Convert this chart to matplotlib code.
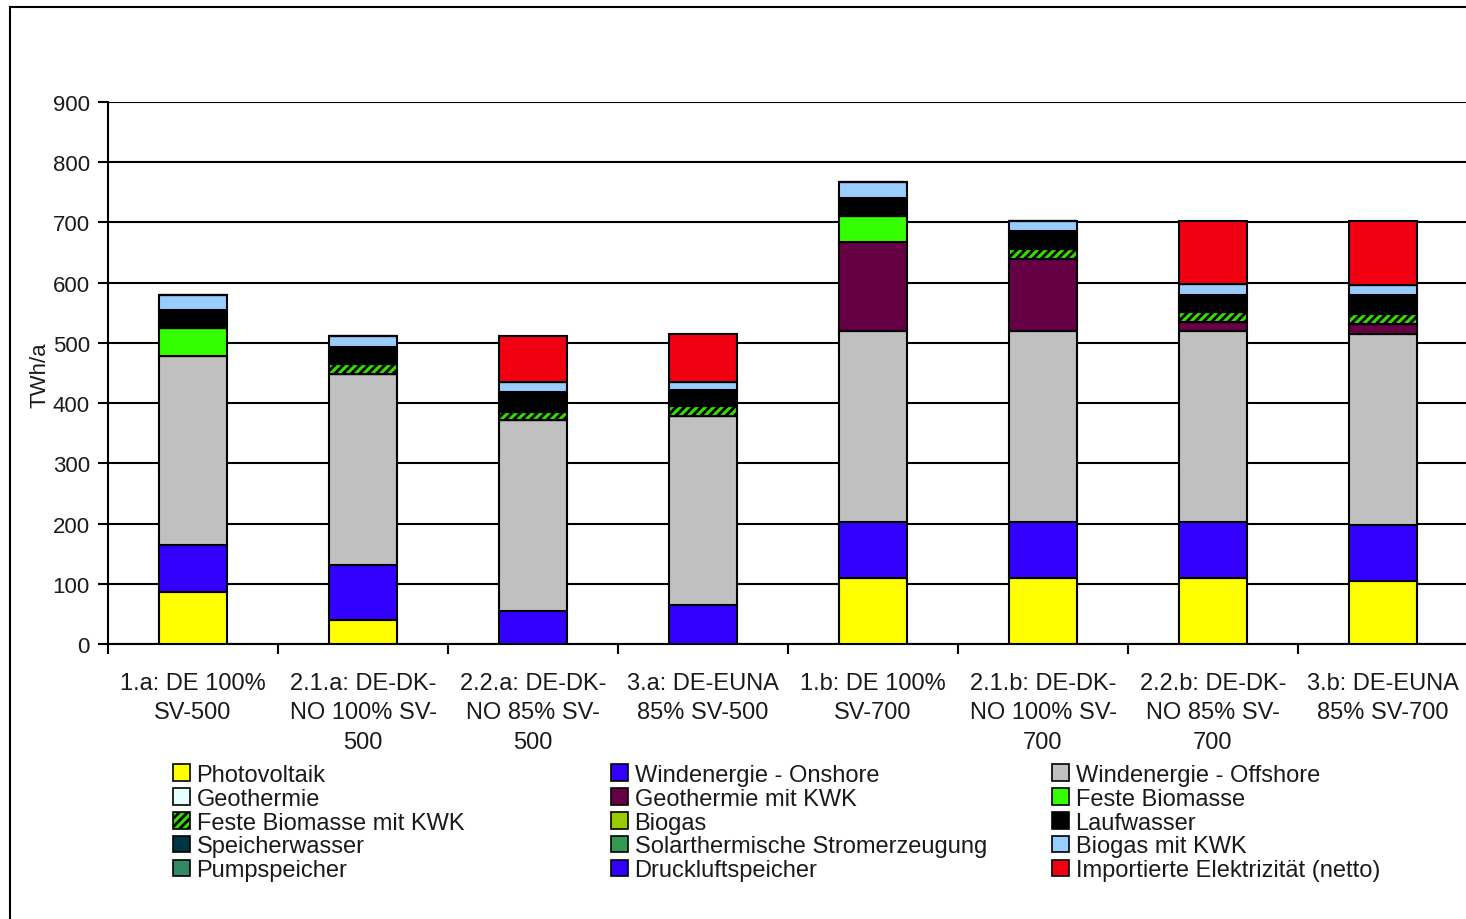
import matplotlib
matplotlib.use("Agg")
import matplotlib.pyplot as plt
from matplotlib.patches import Patch
from matplotlib.lines import Line2D
import numpy as np

plt.rcParams['font.family'] = ['Liberation Sans', 'DejaVu Sans']
plt.rcParams['hatch.linewidth'] = 2.0

categories = ["1.a: DE 100%\nSV-500", "2.1.a: DE-DK-\nNO 100% SV-\n500", "2.2.a: DE-DK-\nNO 85% SV-\n500",
              "3.a: DE-EUNA\n85% SV-500", "1.b: DE 100%\nSV-700", "2.1.b: DE-DK-\nNO 100% SV-\n700",
              "2.2.b: DE-DK-\nNO 85% SV-\n700", "3.b: DE-EUNA\n85% SV-700"]

series_names = ["Photovoltaik", "Windenergie - Onshore", "Windenergie - Offshore",
                "Geothermie", "Geothermie mit KWK", "Feste Biomasse",
                "Feste Biomasse mit KWK", "Biogas", "Laufwasser",
                "Speicherwasser", "Solarthermische Stromerzeugung", "Biogas mit KWK",
                "Pumpspeicher", "Druckluftspeicher", "Importierte Elektrizität (netto)"]

photovoltaik   = [87, 40, 0, 0, 110, 110, 110, 104]
wind_onshore   = [77, 92, 55, 65, 93, 93, 93, 93]
wind_offshore  = [315, 317, 317, 314, 316, 316, 316, 317]
geothermie     = [0, 0, 0, 0, 0, 0, 0, 0]
geothermie_kwk = [0, 0, 0, 0, 148, 121, 16, 18]
feste_biomasse = [46, 0, 0, 0, 43, 0, 0, 0]
feste_bio_kwk  = [0, 16, 14, 16, 0, 16, 16, 16]
biogas         = [0, 0, 0, 0, 0, 0, 0, 0]
laufwasser     = [29, 29, 32, 26, 31, 29, 28, 31]
speicherwasser = [0, 0, 0, 0, 0, 0, 0, 0]
solarthermie   = [0, 0, 0, 0, 0, 0, 0, 0]
biogas_kwk     = [25, 17, 17, 14, 26, 17, 18, 17]
pumpspeicher   = [0, 0, 0, 0, 0, 0, 0, 0]
druckluft      = [0, 0, 0, 0, 0, 0, 0, 0]
import_netto   = [0, 0, 76, 80, 0, 0, 105, 106]

values = [photovoltaik, wind_onshore, wind_offshore, geothermie, geothermie_kwk, feste_biomasse,
          feste_bio_kwk, biogas, laufwasser, speicherwasser, solarthermie, biogas_kwk,
          pumpspeicher, druckluft, import_netto]

colors = ["#FFFF00", "#3300FF", "#C0C0C0", "#E6FFFF", "#660044", "#33FF00",
          "#33DD00", "#99CC00", "#000000", "#003344", "#339955", "#99CCFF",
          "#338866", "#3300FF", "#F00010"]
hatches = [None]*15
hatches[6] = "////"

yticks = [0, 100, 200, 300, 400, 500, 600, 700, 800, 900]

W, H = 1466, 920
fig = plt.figure(figsize=(W/100, H/100), dpi=100)
ax = fig.add_axes([108/W, 1-645/H, (1468-108)/W, (645-103)/H])

x = np.arange(len(categories))
bottom = np.zeros(len(categories))
for vals, c, h in zip(values, colors, hatches):
    v = np.array(vals, dtype=float)
    ax.bar(x, v, width=0.4, bottom=bottom, color=c, edgecolor="black", linewidth=1.5,
           hatch=h, zorder=3)
    bottom += v

ax.set_xlim(-0.5, len(categories)-0.5)
ax.set_ylim(0, 900)
ax.set_yticks(yticks)
ax.set_yticklabels([str(t) for t in yticks], fontsize=16, color="#1a1a1a")
ax.yaxis.grid(True, color="black", linewidth=1.5, zorder=0)
ax.set_axisbelow(True)

ax.set_xticks(np.arange(-0.5, len(categories)), minor=False)
ax.set_xticklabels([])
ax.set_xticks(x, minor=True)
ax.set_xticklabels(categories, minor=True, fontsize=17, color="#1a1a1a", linespacing=1.45)
ax.tick_params(axis="x", which="major", length=7, width=1.5, direction="out")
ax.tick_params(axis="x", which="minor", length=0, pad=20)
ax.tick_params(axis="y", length=7, width=1.5, direction="out", pad=6)

ax.spines["right"].set_visible(False)
ax.spines["top"].set_visible(False)
ax.spines["left"].set_linewidth(1.5)
ax.spines["bottom"].set_linewidth(1.5)

fig.text(40/W, 1-375/H, "TWh/a", rotation=90, ha="center", va="center", fontsize=16, color="#1a1a1a")

# figure border
fig.add_artist(Line2D([10/W, 10/W], [0, 1-8/H], color="black", linewidth=1.5, transform=fig.transFigure))
fig.add_artist(Line2D([10/W, 1], [1-8/H, 1-8/H], color="black", linewidth=1.5, transform=fig.transFigure))

handles = [Patch(facecolor=c, edgecolor="black", hatch=h, linewidth=1.2) for c, h in zip(colors, hatches)]
col_x = [173, 611, 1052]
for k in range(3):
    hs = handles[k::3]
    ls = series_names[k::3]
    fig.legend(hs, ls, loc="upper left", bbox_to_anchor=(col_x[k]/W, 1-765/H), frameon=False,
               borderaxespad=0, borderpad=0, handlelength=0.7, handleheight=0.7,
               handletextpad=0.3, labelspacing=0.075, fontsize=17, labelcolor="#1a1a1a")

fig.savefig("out.png", dpi=100)
